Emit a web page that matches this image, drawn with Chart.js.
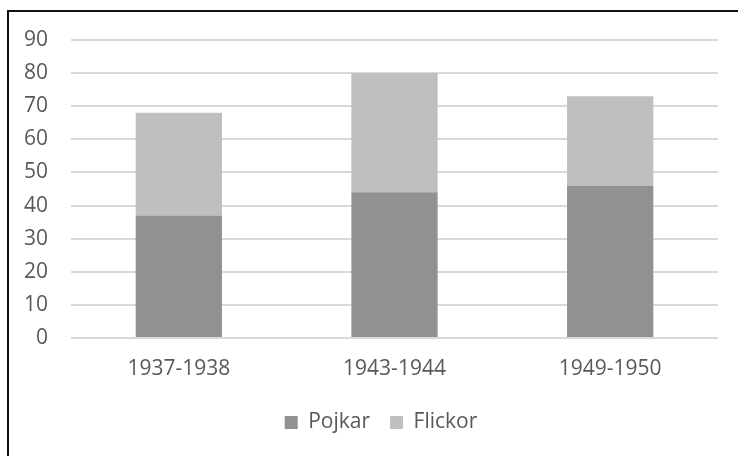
<!DOCTYPE html>
<html>
<head>
<meta charset="utf-8">
<script src="https://cdn.jsdelivr.net/npm/chart.js@4"></script>
<style>
  html, body { margin: 0; padding: 0; background: #fff; overflow: hidden; }
  #wrap { position: relative; width: 738px; height: 456px; }
  #frame { position: absolute; left: 7px; top: 10px; width: 800px; height: 500px;
           border: 2px solid #111; pointer-events: none; }
</style>
</head>
<body>
<div id="wrap">
  <canvas id="chart" width="738" height="456"></canvas>
  <div id="frame"></div>
</div>
<script>
const categories = ['1937-1938', '1943-1944', '1949-1950'];
const pojkar = [37, 44, 46];
const flickor = [31, 36, 27];
const yTicks = [0, 10, 20, 30, 40, 50, 60, 70, 80, 90];

const textColor = '#595959';
const fontFamily = '"Open Sans", "DejaVu Sans", sans-serif';

// nudge the legend a little to the right, like the original
const legendShift = {
    id: 'legendShift',
    afterLayout(chart) {
        if (chart.legend) {
            chart.legend.left += 22;
            chart.legend.right += 22;
        }
    }
};

const ctx = document.getElementById('chart').getContext('2d');
new Chart(ctx, {
    type: 'bar',
    data: {
        labels: categories,
        datasets: [
            { label: 'Pojkar', data: pojkar, backgroundColor: '#919191' },
            { label: 'Flickor', data: flickor, backgroundColor: '#bfbfbf' }
        ]
    },
    options: {
        responsive: false,
        animation: false,
        layout: { padding: { left: 0, right: 20, top: 40, bottom: 13 } },
        datasets: { bar: { categoryPercentage: 0.4, barPercentage: 1 } },
        plugins: {
            tooltip: { enabled: false },
            legend: {
                position: 'bottom',
                labels: {
                    color: textColor,
                    font: { family: fontFamily, size: 21 },
                    boxWidth: 13,
                    boxHeight: 13,
                    padding: 20
                }
            }
        },
        scales: {
            x: {
                stacked: true,
                grid: { display: false, drawTicks: false },
                border: { display: false },
                ticks: { color: textColor, font: { family: fontFamily, size: 21 }, padding: 18, maxRotation: 0 },
                afterFit: s => { s.height = 54; }
            },
            y: {
                stacked: true,
                min: 0,
                max: 90,
                afterBuildTicks: s => { s.ticks = yTicks.map(v => ({ value: v })); },
                grid: { color: '#d9d9d9', lineWidth: 2, drawTicks: false },
                border: { display: false },
                ticks: { color: textColor, font: { family: fontFamily, size: 21 }, padding: 23 },
                afterFit: s => { s.width = 71; }
            }
        }
    },
    plugins: [legendShift]
});
</script>
</body>
</html>
